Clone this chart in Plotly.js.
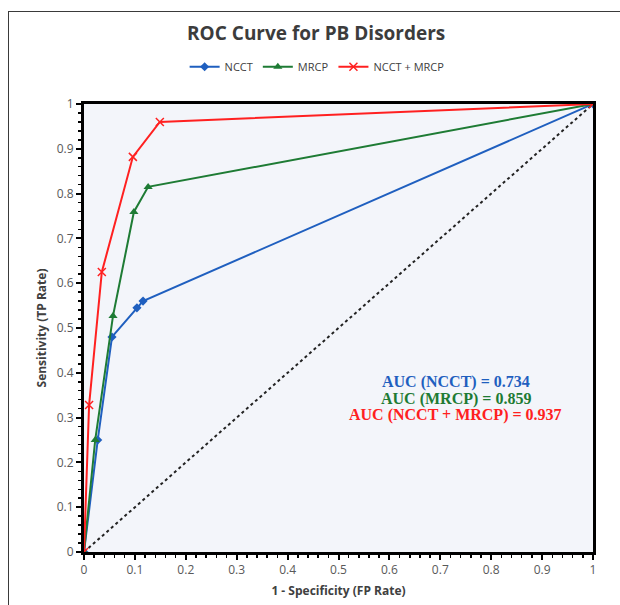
<!DOCTYPE html>
<html>
<head>
<meta charset="utf-8">
<script src="https://cdn.plot.ly/plotly-3.0.1.min.js"></script>
<style>
html,body{margin:0;padding:0;background:#fff;}
#chart{width:620px;height:605px;position:absolute;left:0;top:0;}
#frame{position:absolute;left:8px;top:11px;width:640px;height:640px;border:1.5px solid #3a3a3a;pointer-events:none;}
</style>
</head>
<body>
<div id="chart"></div>
<div id="frame"></div>
<script>
const seriesNames = ["NCCT", "MRCP", "NCCT + MRCP"];
const fprNCCT = [0, 0.027, 0.055, 0.104, 0.116, 1];
const tprNCCT = [0, 0.25, 0.48, 0.545, 0.56, 1];
const fprMRCP = [0, 0.022, 0.057, 0.098, 0.126, 1];
const tprMRCP = [0, 0.25, 0.527, 0.759, 0.815, 1];
const fprBoth = [0, 0.01, 0.035, 0.096, 0.149, 1];
const tprBoth = [0, 0.328, 0.625, 0.882, 0.96, 1];
const chanceX = [0, 1];
const chanceY = [0, 1];
const aucLabels = ["AUC (NCCT) = 0.734", "AUC (MRCP) = 0.859", "AUC (NCCT + MRCP) = 0.937"];
const tickVals = [0, 0.1, 0.2, 0.3, 0.4, 0.5, 0.6, 0.7, 0.8, 0.9, 1];
const tickText = ["0", "0.1", "0.2", "0.3", "0.4", "0.5", "0.6", "0.7", "0.8", "0.9", "1"];

const blue = "#1f5fbf", green = "#1e7b34", red = "#ff2020";

const traces = [
  {x: chanceX, y: chanceY, mode: "lines", line: {color: "#222", width: 2, dash: "dot"}, showlegend: false, hoverinfo: "skip"},
  {x: fprNCCT, y: tprNCCT, name: seriesNames[0], mode: "lines+markers",
   line: {color: blue, width: 2}, marker: {symbol: "diamond", size: 7, color: blue}},
  {x: fprMRCP, y: tprMRCP, name: seriesNames[1], mode: "lines+markers",
   line: {color: green, width: 2}, marker: {symbol: "triangle-up", size: 8, color: green}},
  {x: fprBoth, y: tprBoth, name: seriesNames[2], mode: "lines+markers",
   line: {color: red, width: 2}, marker: {symbol: "x-thin", size: 8, color: red, line: {color: red, width: 1.5}}}
];

const axisCommon = {
  range: [0, 1], tickvals: tickVals, ticktext: tickText, showgrid: false, zeroline: false,
  showline: true, linecolor: "#000", linewidth: 3, mirror: true,
  ticks: "outside", ticklen: 5, tickwidth: 2, tickcolor: "#000",
  tickfont: {family: "Open Sans, sans-serif", size: 12, color: "#595959"},
  minor: {dtick: 0.02, ticks: "outside", ticklen: 3, tickwidth: 1.5, tickcolor: "#000", showgrid: false}
};

const layout = {
  width: 620, height: 605,
  margin: {l: 84, r: 27, t: 104, b: 53},
  paper_bgcolor: "#fff",
  plot_bgcolor: "#f3f5fa",
  title: {text: "<b>ROC Curve for PB Disorders</b>", x: 0.51, xanchor: "center", y: 0.945, yanchor: "middle",
          font: {family: "Open Sans, sans-serif", size: 19, color: "#3c3c3c"}},
  showlegend: true,
  legend: {orientation: "h", x: 0.458, xanchor: "center", y: 1.083, yanchor: "middle",
           font: {family: "Open Sans, sans-serif", size: 11, color: "#404040"}, bgcolor: "rgba(0,0,0,0)"},
  xaxis: Object.assign({}, axisCommon, {
    title: {text: "<b>1 - Specificity (FP Rate)</b>", standoff: 10,
            font: {family: "Open Sans, sans-serif", size: 12, color: "#404040"}}
  }),
  yaxis: Object.assign({}, axisCommon, {
    title: {text: "<b>Sensitivity (TP Rate)</b>", standoff: 8,
            font: {family: "Open Sans, sans-serif", size: 12, color: "#404040"}}
  }),
  annotations: [
    {text: "<b>" + aucLabels[0] + "</b>", x: 0.73, y: 0.38, xref: "x", yref: "y", showarrow: false,
     font: {family: "Liberation Serif, serif", size: 16, color: blue}},
    {text: "<b>" + aucLabels[1] + "</b>", x: 0.73, y: 0.342, xref: "x", yref: "y", showarrow: false,
     font: {family: "Liberation Serif, serif", size: 16, color: green}},
    {text: "<b>" + aucLabels[2] + "</b>", x: 0.73, y: 0.305, xref: "x", yref: "y", showarrow: false,
     font: {family: "Liberation Serif, serif", size: 16, color: red}}
  ]
};

Plotly.newPlot("chart", traces, layout, {displayModeBar: false, staticPlot: true});
</script>
</body>
</html>
